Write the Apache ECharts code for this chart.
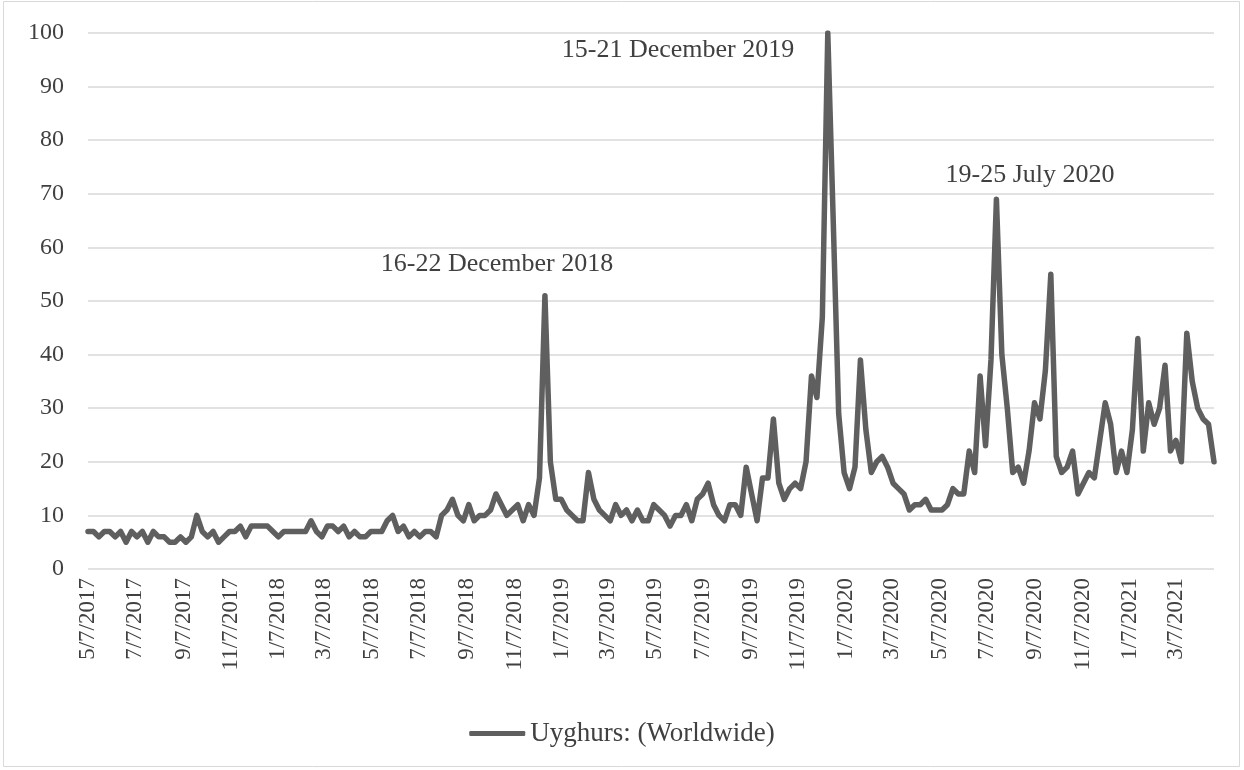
<!DOCTYPE html>
<html><head><meta charset="utf-8">
<script src="https://cdn.jsdelivr.net/npm/echarts@6/dist/echarts.min.js"></script>
<style>html,body{margin:0;padding:0;background:#fff}#c{width:1244px;height:770px}</style>
</head><body><div id="c"></div>
<script>
const seriesName = 'Uyghurs: (Worldwide)';
const firstWeek = [2017, 5, 7];
const values = [
  7,7,6,7,7,6,7,5,7,6,
  7,5,7,6,6,5,5,6,5,6,
  10,7,6,7,5,6,7,7,8,6,
  8,8,8,8,7,6,7,7,7,7,
  7,9,7,6,8,8,7,8,6,7,
  6,6,7,7,7,9,10,7,8,6,
  7,6,7,7,6,10,11,13,10,9,
  12,9,10,10,11,14,12,10,11,12,
  9,12,10,17,51,20,13,13,11,10,
  9,9,18,13,11,10,9,12,10,11,
  9,11,9,9,12,11,10,8,10,10,
  12,9,13,14,16,12,10,9,12,12,
  10,19,14,9,17,17,28,16,13,15,
  16,15,20,36,32,47,100,65,29,18,
  15,19,39,26,18,20,21,19,16,15,
  14,11,12,12,13,11,11,11,12,15,
  14,14,22,18,36,23,39,69,40,30,
  18,19,16,22,31,28,37,55,21,18,
  19,22,14,16,18,17,24,31,27,18,
  22,18,26,43,22,31,27,30,38,22,
  24,20,44,35,30,28,27,20
];
const tickLabels = ['5/7/2017','7/7/2017','9/7/2017','11/7/2017','1/7/2018','3/7/2018','5/7/2018','7/7/2018','9/7/2018','11/7/2018','1/7/2019','3/7/2019','5/7/2019','7/7/2019','9/7/2019','11/7/2019','1/7/2020','3/7/2020','5/7/2020','7/7/2020','9/7/2020','11/7/2020','1/7/2021','3/7/2021'];
const yTicks = [0,10,20,30,40,50,60,70,80,90,100];
const annotationTexts = ['16-22 December 2018','15-21 December 2019','19-25 July 2020'];

function weekDate(i){ return new Date(firstWeek[0], firstWeek[1]-1, firstWeek[2] + 7*i).getTime(); }
function parseMDY(s){ const p = s.split('/').map(Number); return new Date(p[2], p[0]-1, p[1]).getTime(); }
const data = values.map((v,i)=>[weekDate(i), v]);
const tickTimes = tickLabels.map(parseMDY);
const labelByTime = {}; tickLabels.forEach((l,i)=>{ labelByTime[tickTimes[i]] = l; });

const FONT = '"Liberation Serif", "Times New Roman", serif';
const TXT = '#404040';
const chart = echarts.init(document.getElementById('c'), null, {renderer:'canvas'});
chart.setOption({
  animation:false,
  backgroundColor:'#fff',
  grid:{left:88, right:30, top:33, bottom:201, containLabel:false},
  xAxis:{
    type:'value', min:data[0][0], max:data[data.length-1][0],
    axisLine:{show:false}, axisTick:{show:false}, splitLine:{show:false},
    axisLabel:{customValues:tickTimes, rotate:90, margin:9, fontFamily:FONT, fontSize:23, color:TXT,
      showMinLabel:true, showMaxLabel:true,
      formatter:(v)=> labelByTime[v] || ''}
  },
  yAxis:{
    type:'value', min:yTicks[0], max:yTicks[yTicks.length-1], interval:yTicks[1]-yTicks[0],
    axisLine:{show:false}, axisTick:{show:false},
    splitLine:{lineStyle:{color:'#d9d9d9', width:1.5}},
    axisLabel:{margin:24, fontFamily:FONT, fontSize:24, color:TXT}
  },
  legend:{
    bottom:18, left:'center', icon:'roundRect', itemWidth:56, itemHeight:5, itemGap:10,
    textStyle:{fontFamily:FONT, fontSize:27, color:TXT},
    data:[seriesName]
  },
  series:[{
    name:seriesName, type:'line', data:data, showSymbol:false, symbol:'none',
    lineStyle:{color:'#5f5f5f', width:5.5, cap:'round', join:'round'},
    itemStyle:{color:'#5f5f5f'}
  }],
  graphic:[
    {type:'rect', shape:{x:3.5, y:1.5, width:1236, height:765}, style:{fill:'none', stroke:'#d9d9d9', lineWidth:1}, silent:true},
    {type:'text', x:497, y:264, style:{text:annotationTexts[0], font:'26px '+FONT, fill:TXT, align:'center', verticalAlign:'middle'}},
    {type:'text', x:678, y:50, style:{text:annotationTexts[1], font:'26px '+FONT, fill:TXT, align:'center', verticalAlign:'middle'}},
    {type:'text', x:1030, y:175, style:{text:annotationTexts[2], font:'26px '+FONT, fill:TXT, align:'center', verticalAlign:'middle'}}
  ]
});
</script>
</body></html>
